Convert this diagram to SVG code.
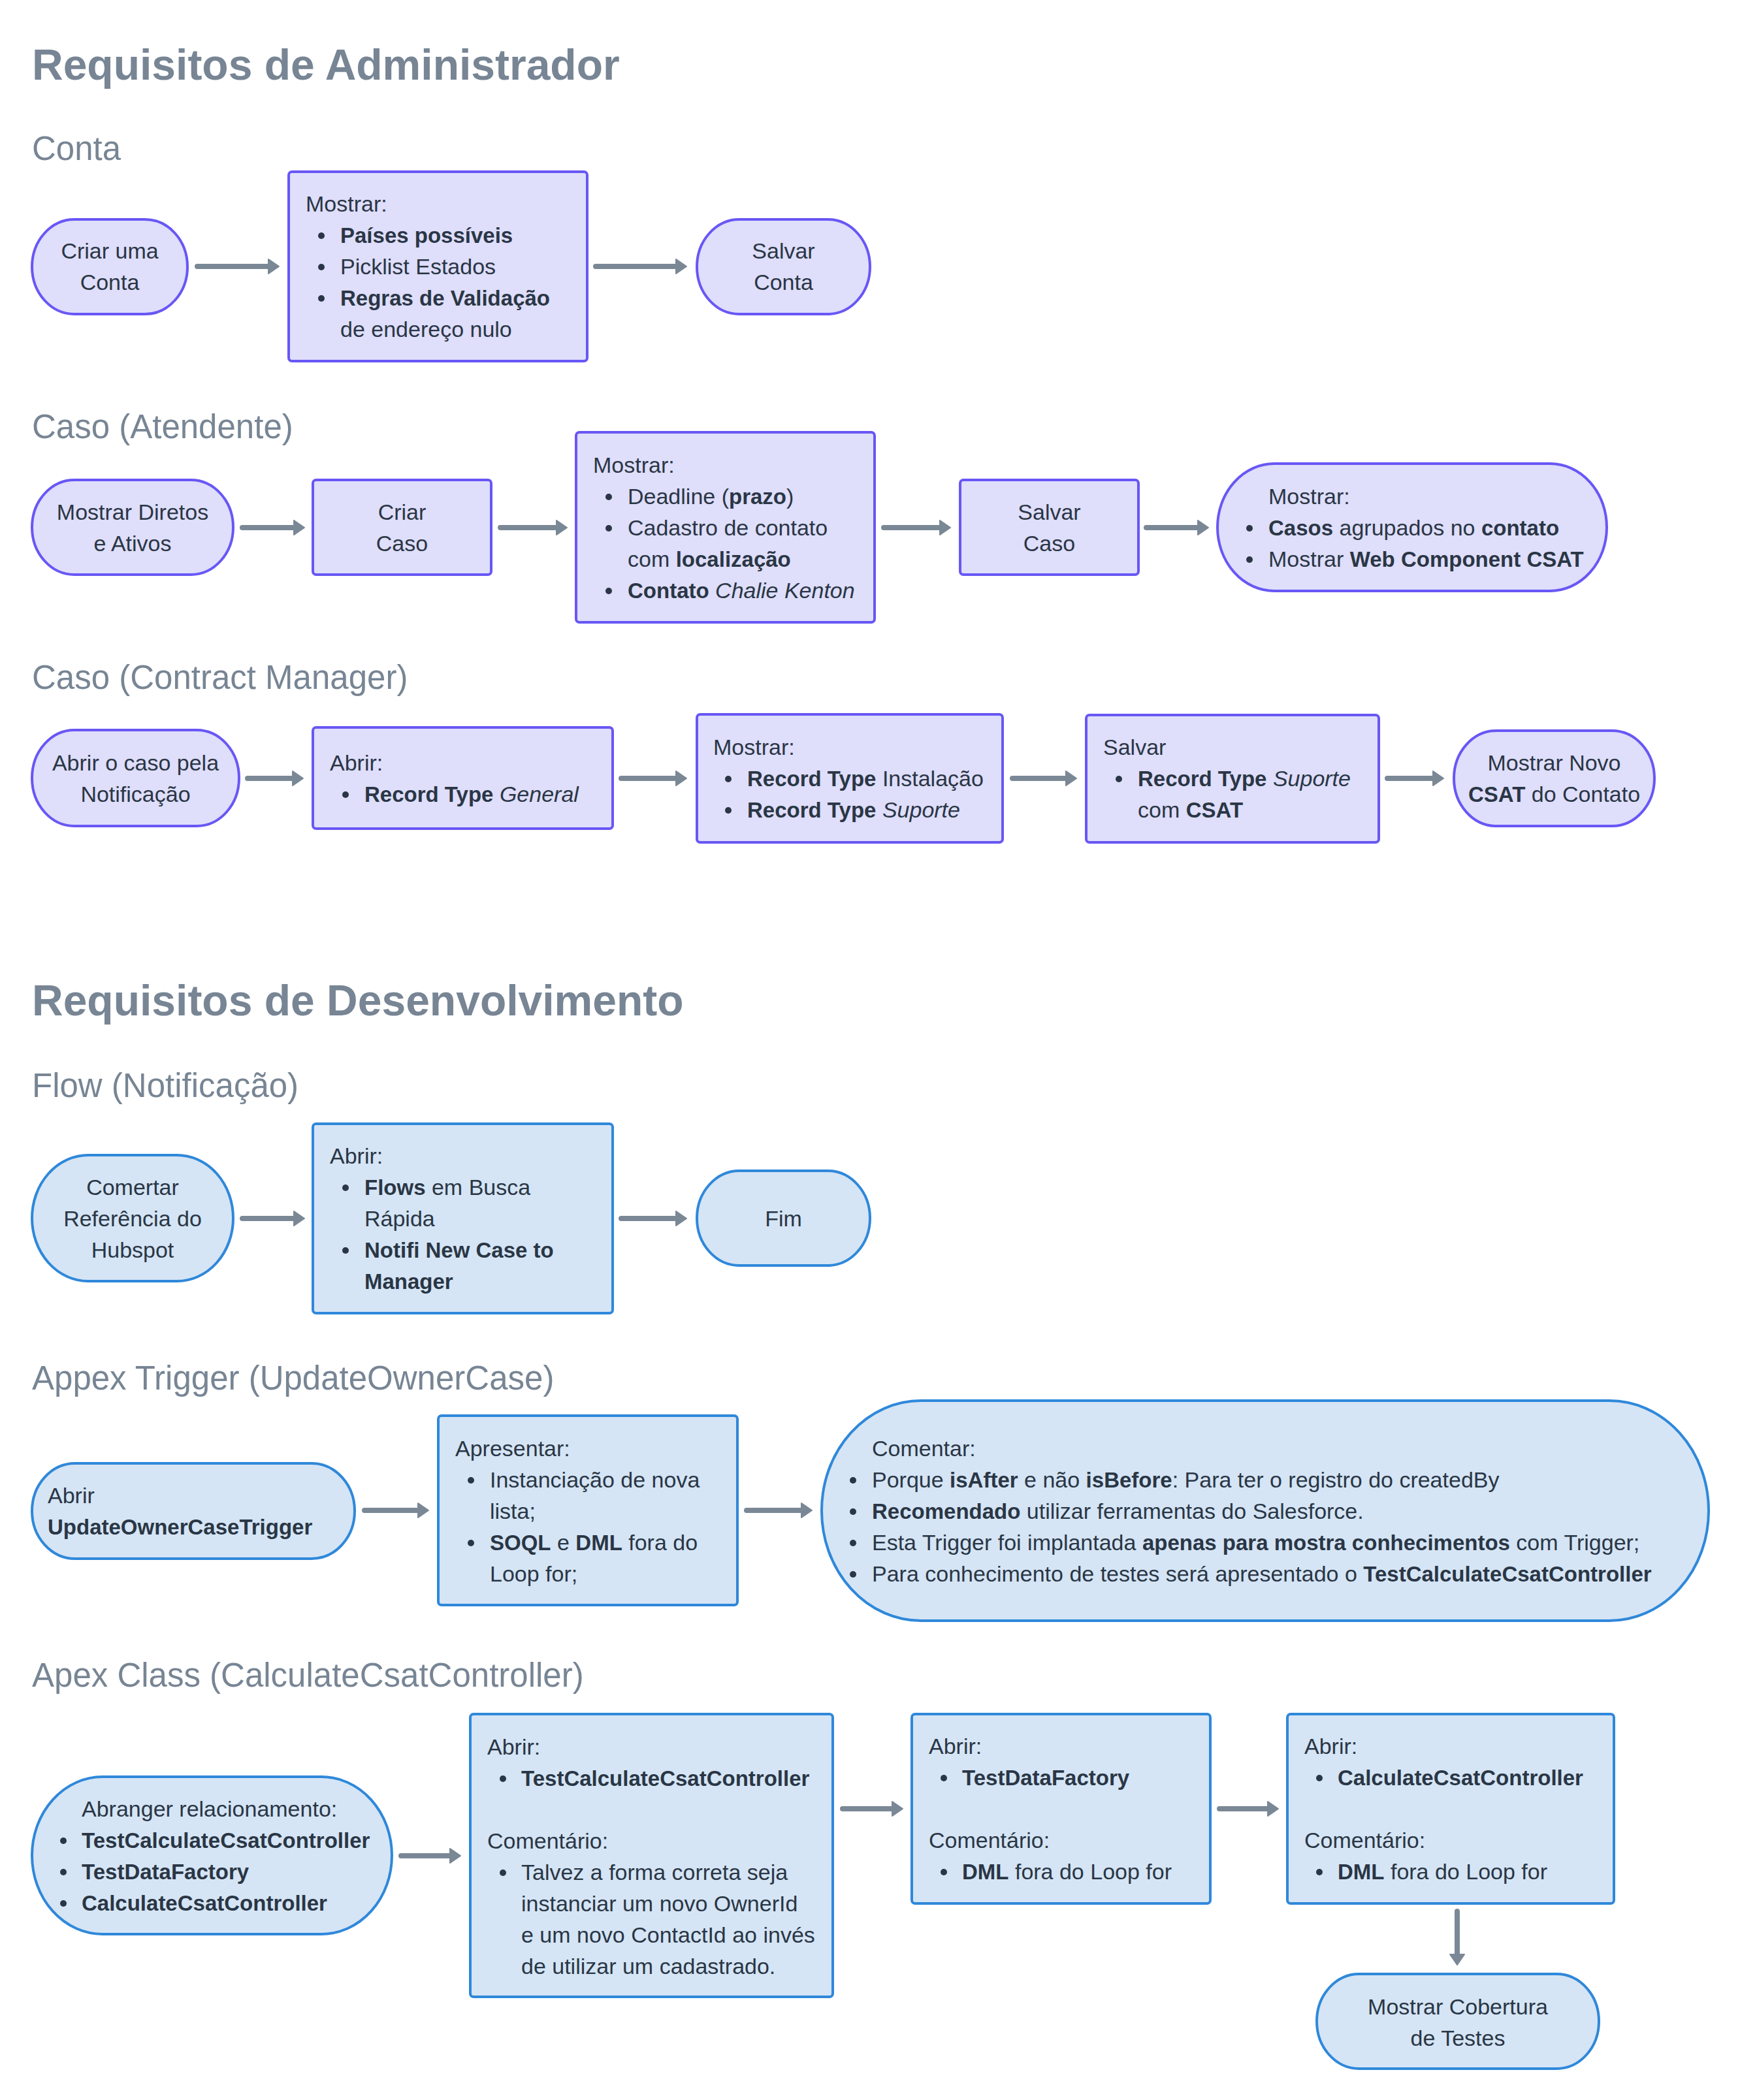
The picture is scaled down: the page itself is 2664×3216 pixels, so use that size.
<svg xmlns="http://www.w3.org/2000/svg" width="2664" height="3216" viewBox="0 0 2664 3216">
<defs>
<style>
text{font-family:"Liberation Sans",Arial,sans-serif;font-size:34px;fill:#2a3645}
.b{font-weight:bold;font-size:33px}
.i{font-style:italic}
.m{text-anchor:middle}
.h1{font-size:66px;font-weight:bold;fill:#778594}
.h2{font-size:51px;fill:#778594}
.p{fill:#dfdefb;stroke:#6857f5;stroke-width:4}
.q{fill:#d5e5f5;stroke:#2f88da;stroke-width:4}
.c{stroke:#7a8896;stroke-width:8;stroke-linecap:round;fill:none;marker-end:url(#ah)}
.d{fill:#2a3645}
</style>
<marker id="ah" markerUnits="userSpaceOnUse" viewBox="0 0 20 28" markerWidth="20" markerHeight="28" refX="2" refY="14" orient="auto">
<path d="M2,3 L18,14 L2,25 Z" fill="#7a8896" stroke="#7a8896" stroke-width="2" stroke-linejoin="round"/>
</marker>
</defs>
<rect width="2664" height="3216" fill="#ffffff"/>

<g id="headers">
<text class="h1" x="49" y="122">Requisitos de Administrador</text>
<text class="h2" x="49" y="245">Conta</text>
<text class="h2" x="49" y="671">Caso (Atendente)</text>
<text class="h2" x="49" y="1055">Caso (Contract Manager)</text>
<text class="h1" x="49" y="1555">Requisitos de Desenvolvimento</text>
<text class="h2" x="49" y="1680">Flow (Notificação)</text>
<text class="h2" x="49" y="2128">Appex Trigger (UpdateOwnerCase)</text>
<text class="h2" x="49" y="2583">Apex Class (CalculateCsatController)</text>
</g>

<g id="connectors">
<path class="c" d="M302,408 H411"/>
<path class="c" d="M912,408 H1035"/>
<path class="c" d="M371,808 H450"/>
<path class="c" d="M766,808 H852"/>
<path class="c" d="M1353,808 H1439"/>
<path class="c" d="M1755,808 H1834"/>
<path class="c" d="M379,1192 H448"/>
<path class="c" d="M951,1192 H1035"/>
<path class="c" d="M1550,1192 H1632"/>
<path class="c" d="M2124,1192 H2194"/>
<path class="c" d="M371,1866 H450"/>
<path class="c" d="M951,1866 H1035"/>
<path class="c" d="M558,2313 H640"/>
<path class="c" d="M1143,2313 H1227"/>
<path class="c" d="M614,2842 H689"/>
<path class="c" d="M1290,2770 H1366"/>
<path class="c" d="M1867,2770 H1941"/>
<path class="c" d="M2231,2927 V2993"/>
</g>

<g id="n1">
<rect class="p" x="49" y="336" width="238" height="145" rx="65" ry="72.5"/>
<text class="m" x="168" y="396">Criar uma</text>
<text class="m" x="168" y="444">Conta</text>
</g>
<g id="n2">
<rect class="p" x="442" y="263" width="457" height="290" rx="5"/>
<text x="468" y="324">Mostrar:</text>
<circle class="d" cx="492" cy="361" r="5"/><text class="b" x="521" y="372">Países possíveis</text>
<circle class="d" cx="492" cy="409" r="5"/><text x="521" y="420">Picklist Estados</text>
<circle class="d" cx="492" cy="457" r="5"/><text class="b" x="521" y="468">Regras de Validação</text>
<text x="521" y="516">de endereço nulo</text>
</g>
<g id="n3">
<rect class="p" x="1067" y="336" width="265" height="145" rx="65" ry="72.5"/>
<text class="m" x="1199.5" y="396">Salvar</text>
<text class="m" x="1199.5" y="444">Conta</text>
</g>

<g id="n4">
<rect class="p" x="49" y="735" width="308" height="145" rx="65" ry="72.5"/>
<text class="m" x="203" y="796">Mostrar Diretos</text>
<text class="m" x="203" y="844">e Ativos</text>
</g>
<g id="n5">
<rect class="p" x="479" y="735" width="273" height="145" rx="5"/>
<text class="m" x="615.5" y="796">Criar</text>
<text class="m" x="615.5" y="844">Caso</text>
</g>
<g id="n6">
<rect class="p" x="882" y="662" width="457" height="291" rx="5"/>
<text x="908" y="724">Mostrar:</text>
<circle class="d" cx="932" cy="761" r="5"/><text x="961" y="772">Deadline (<tspan class="b">prazo</tspan>)</text>
<circle class="d" cx="932" cy="809" r="5"/><text x="961" y="820">Cadastro de contato</text>
<text x="961" y="868">com <tspan class="b">localização</tspan></text>
<circle class="d" cx="932" cy="905" r="5"/><text x="961" y="916"><tspan class="b">Contato</tspan> <tspan class="i">Chalie Kenton</tspan></text>
</g>
<g id="n7">
<rect class="p" x="1470" y="735" width="273" height="145" rx="5"/>
<text class="m" x="1606.5" y="796">Salvar</text>
<text class="m" x="1606.5" y="844">Caso</text>
</g>
<g id="n8">
<rect class="p" x="1864" y="710" width="596" height="195" rx="87" ry="97.5"/>
<text x="1942" y="772">Mostrar:</text>
<circle class="d" cx="1913" cy="809" r="5"/><text x="1942" y="820"><tspan class="b">Casos</tspan> agrupados no <tspan class="b">contato</tspan></text>
<circle class="d" cx="1913" cy="857" r="5"/><text x="1942" y="868">Mostrar <tspan class="b">Web Component CSAT</tspan></text>
</g>

<g id="n9">
<rect class="p" x="49" y="1118" width="317" height="147" rx="65" ry="73.5"/>
<text class="m" x="207.5" y="1180">Abrir o caso pela</text>
<text class="m" x="207.5" y="1228">Notificação</text>
</g>
<g id="n10">
<rect class="p" x="479" y="1114" width="459" height="155" rx="5"/>
<text x="505" y="1180">Abrir:</text>
<circle class="d" cx="529" cy="1217" r="5"/><text x="558" y="1228"><tspan class="b">Record Type</tspan> <tspan class="i">General</tspan></text>
</g>
<g id="n11">
<rect class="p" x="1067" y="1094" width="468" height="196" rx="5"/>
<text x="1092" y="1156">Mostrar:</text>
<circle class="d" cx="1115" cy="1193" r="5"/><text x="1144" y="1204"><tspan class="b">Record Type</tspan> Instalação</text>
<circle class="d" cx="1115" cy="1241" r="5"/><text x="1144" y="1252"><tspan class="b">Record Type</tspan> <tspan class="i">Suporte</tspan></text>
</g>
<g id="n12">
<rect class="p" x="1663" y="1095" width="448" height="195" rx="5"/>
<text x="1689" y="1156">Salvar</text>
<circle class="d" cx="1713" cy="1193" r="5"/><text x="1742" y="1204"><tspan class="b">Record Type</tspan> <tspan class="i">Suporte</tspan></text>
<text x="1742" y="1252">com <tspan class="b">CSAT</tspan></text>
</g>
<g id="n13">
<rect class="p" x="2226" y="1119" width="307" height="146" rx="65" ry="73"/>
<text class="m" x="2379.5" y="1180">Mostrar Novo</text>
<text class="m" x="2379.5" y="1228"><tspan class="b">CSAT</tspan> do Contato</text>
</g>

<g id="n14">
<rect class="q" x="49" y="1769" width="308" height="193" rx="86" ry="96.5"/>
<text class="m" x="203" y="1830">Comertar</text>
<text class="m" x="203" y="1878">Referência do</text>
<text class="m" x="203" y="1926">Hubspot</text>
</g>
<g id="n15">
<rect class="q" x="479" y="1721" width="459" height="290" rx="5"/>
<text x="505" y="1782">Abrir:</text>
<circle class="d" cx="529" cy="1819" r="5"/><text x="558" y="1830"><tspan class="b">Flows</tspan> em Busca</text>
<text x="558" y="1878">Rápida</text>
<circle class="d" cx="529" cy="1915" r="5"/><text class="b" x="558" y="1926">Notifi New Case to</text>
<text class="b" x="558" y="1974">Manager</text>
</g>
<g id="n16">
<rect class="q" x="1067" y="1793" width="265" height="145" rx="65" ry="72.5"/>
<text class="m" x="1199.5" y="1878">Fim</text>
</g>

<g id="n17">
<rect class="q" x="49" y="2241" width="494" height="146" rx="66" ry="73"/>
<text x="73" y="2302">Abrir</text>
<text class="b" x="73" y="2350">UpdateOwnerCaseTrigger</text>
</g>
<g id="n18">
<rect class="q" x="671" y="2168" width="458" height="290" rx="5"/>
<text x="697" y="2230">Apresentar:</text>
<circle class="d" cx="721" cy="2267" r="5"/><text x="750" y="2278">Instanciação de nova</text>
<text x="750" y="2326">lista;</text>
<circle class="d" cx="721" cy="2363" r="5"/><text x="750" y="2374"><tspan class="b">SOQL</tspan> e <tspan class="b">DML</tspan> fora do</text>
<text x="750" y="2422">Loop for;</text>
</g>
<g id="n19">
<rect class="q" x="1258" y="2145" width="1358" height="337" rx="152" ry="168.5"/>
<text x="1335" y="2230">Comentar:</text>
<circle class="d" cx="1306" cy="2267" r="5"/><text x="1335" y="2278">Porque <tspan class="b">isAfter</tspan> e não <tspan class="b">isBefore</tspan>: Para ter o registro do createdBy</text>
<circle class="d" cx="1306" cy="2315" r="5"/><text x="1335" y="2326"><tspan class="b">Recomendado</tspan> utilizar ferramentas do Salesforce.</text>
<circle class="d" cx="1306" cy="2363" r="5"/><text x="1335" y="2374">Esta Trigger foi implantada <tspan class="b">apenas para mostra conhecimentos</tspan> com Trigger;</text>
<circle class="d" cx="1306" cy="2411" r="5"/><text x="1335" y="2422">Para conhecimento de testes será apresentado o <tspan class="b">TestCalculateCsatController</tspan></text>
</g>

<g id="n20">
<rect class="q" x="49" y="2721" width="551" height="241" rx="108" ry="120.5"/>
<text x="125" y="2782">Abranger relacionamento:</text>
<circle class="d" cx="97" cy="2819" r="5"/><text class="b" x="125" y="2830">TestCalculateCsatController</text>
<circle class="d" cx="97" cy="2867" r="5"/><text class="b" x="125" y="2878">TestDataFactory</text>
<circle class="d" cx="97" cy="2915" r="5"/><text class="b" x="125" y="2926">CalculateCsatController</text>
</g>
<g id="n21">
<rect class="q" x="720" y="2625" width="555" height="433" rx="5"/>
<text x="746" y="2687">Abrir:</text>
<circle class="d" cx="770" cy="2724" r="5"/><text class="b" x="798" y="2735">TestCalculateCsatController</text>
<text x="746" y="2831">Comentário:</text>
<circle class="d" cx="770" cy="2868" r="5"/><text x="798" y="2879">Talvez a forma correta seja</text>
<text x="798" y="2927">instanciar um novo OwnerId</text>
<text x="798" y="2975">e um novo ContactId ao invés</text>
<text x="798" y="3023">de utilizar um cadastrado.</text>
</g>
<g id="n22">
<rect class="q" x="1396" y="2625" width="457" height="290" rx="5"/>
<text x="1422" y="2686">Abrir:</text>
<circle class="d" cx="1445" cy="2723" r="5"/><text class="b" x="1473" y="2734">TestDataFactory</text>
<text x="1422" y="2830">Comentário:</text>
<circle class="d" cx="1445" cy="2867" r="5"/><text x="1473" y="2878"><tspan class="b">DML</tspan> fora do Loop for</text>
</g>
<g id="n23">
<rect class="q" x="1971" y="2625" width="500" height="290" rx="5"/>
<text x="1997" y="2686">Abrir:</text>
<circle class="d" cx="2020" cy="2723" r="5"/><text class="b" x="2048" y="2734">CalculateCsatController</text>
<text x="1997" y="2830">Comentário:</text>
<circle class="d" cx="2020" cy="2867" r="5"/><text x="2048" y="2878"><tspan class="b">DML</tspan> fora do Loop for</text>
</g>
<g id="n24">
<rect class="q" x="2016" y="3023" width="432" height="145" rx="65" ry="72.5"/>
<text class="m" x="2232" y="3085">Mostrar Cobertura</text>
<text class="m" x="2232" y="3133">de Testes</text>
</g>
</svg>
